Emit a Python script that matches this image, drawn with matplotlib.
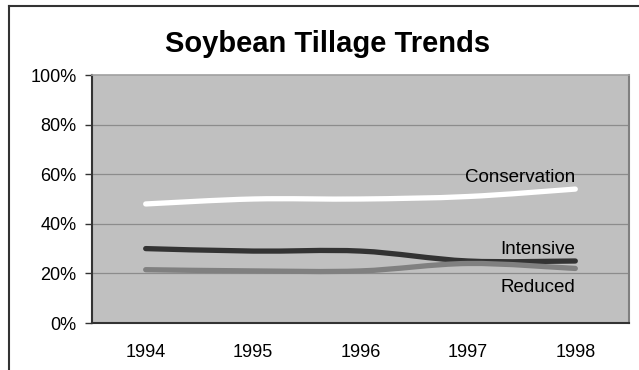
import matplotlib
matplotlib.use("Agg")
import matplotlib.pyplot as plt
from matplotlib.path import Path
from matplotlib.patches import PathPatch
from matplotlib.lines import Line2D
import numpy as np

years = ["1994", "1995", "1996", "1997", "1998"]
conservation = [48, 50, 50, 51, 54]
intensive = [30, 29, 29, 25, 25]
reduced = [21.5, 21, 21, 24, 22]
series_names = ["Conservation", "Intensive", "Reduced"]
series_colors = ["#FFFFFF", "#333333", "#808080"]
label_y = [57, 28, 12.5]
yticks = [0, 20, 40, 60, 80, 100]

plt.rcParams['font.family'] = ['Liberation Sans', 'DejaVu Sans']

fig = plt.figure(figsize=(6.39, 3.70), dpi=100)
ax = fig.add_axes([92/639, 1 - 323/370, (629-92)/639, (323-75)/370])
ax.set_facecolor("#C0C0C0")
ax.set_xlim(-0.5, len(years) - 0.5)
ax.set_ylim(0, 100)

for y in yticks[1:-1]:
    ax.axhline(y, color="#8c8c8c", lw=0.9, zorder=1)


def smooth_path(xs, ys, t=1/6):
    xs = np.asarray(xs, float); ys = np.asarray(ys, float)
    n = len(xs)
    verts = [(xs[0], ys[0])]
    codes = [Path.MOVETO]
    for i in range(n - 1):
        p0 = np.array([xs[max(i-1, 0)], ys[max(i-1, 0)]])
        p1 = np.array([xs[i], ys[i]])
        p2 = np.array([xs[i+1], ys[i+1]])
        p3 = np.array([xs[min(i+2, n-1)], ys[min(i+2, n-1)]])
        c1 = p1 + (p2 - p0) * t
        c2 = p2 - (p3 - p1) * t
        verts += [tuple(c1), tuple(c2), tuple(p2)]
        codes += [Path.CURVE4] * 3
    return Path(verts, codes)


xs = np.arange(len(years))
for vals, name, col, ly in zip([conservation, intensive, reduced], series_names, series_colors, label_y):
    p = smooth_path(xs, vals)
    patch = PathPatch(p, facecolor="none", edgecolor=col, lw=3.8, capstyle="round", joinstyle="round", zorder=3)
    ax.add_patch(patch)
    ax.text(xs[-1], ly, name, ha="right", va="baseline", fontsize=13.5, color="black", zorder=4)

ax.set_xticks(xs)
ax.set_xticklabels(years, fontsize=13)
ax.tick_params(axis="x", length=0, pad=15)
ax.set_yticks(yticks)
ax.set_yticklabels([f"{v}%" for v in yticks], fontsize=13)
ax.tick_params(axis="y", length=5, width=1, color="#333333", pad=6)

ax.spines["top"].set_color("#a0a0a0")
ax.spines["top"].set_linewidth(1.2)
ax.spines["right"].set_color("#808080")
ax.spines["right"].set_linewidth(1.5)
ax.spines["left"].set_color("#333333")
ax.spines["left"].set_linewidth(1.5)
ax.spines["bottom"].set_color("#333333")
ax.spines["bottom"].set_linewidth(1.5)

fig.text(328/639, 1 - 52/370, "Soybean Tillage Trends", ha="center", va="baseline",
         fontsize=21, fontweight="bold")

# outer chart frame (left and top edges visible)
fig.add_artist(Line2D([8.5/639, 8.5/639], [0, 1 - 6/370], transform=fig.transFigure, color="#333333", lw=1.5))
fig.add_artist(Line2D([8.5/639, 1], [1 - 6/370, 1 - 6/370], transform=fig.transFigure, color="#333333", lw=1.5))

fig.savefig("out.png", dpi=100)
